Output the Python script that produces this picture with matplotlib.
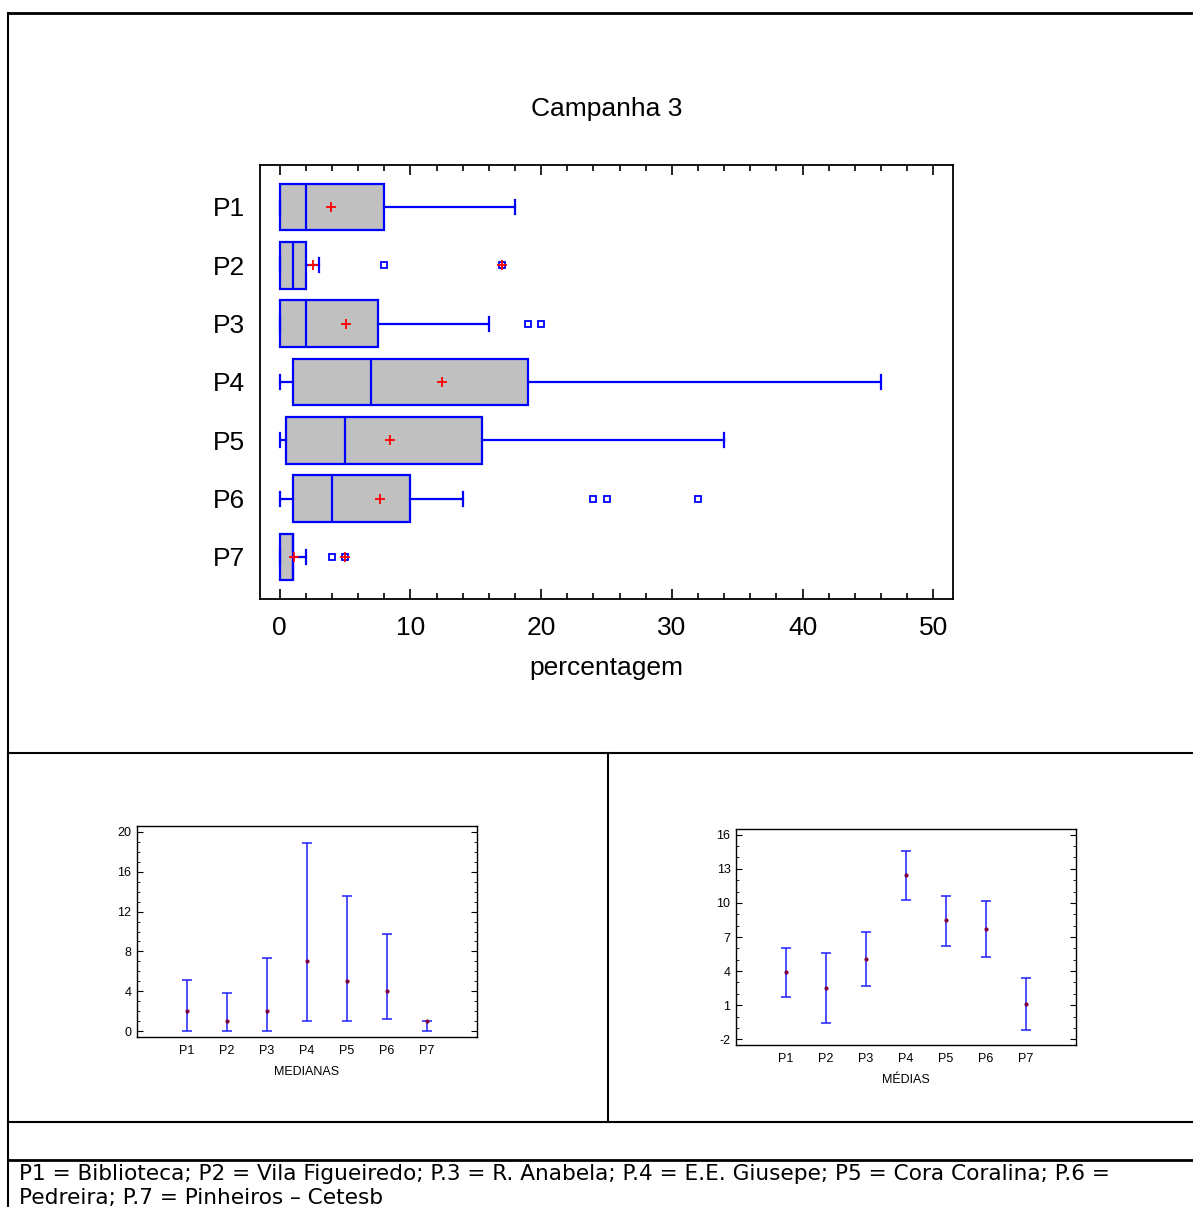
import numpy as np
import matplotlib
matplotlib.use("Agg")
import matplotlib.pyplot as plt
from matplotlib.lines import Line2D
from matplotlib.ticker import MultipleLocator, FixedLocator

plt.rcParams['font.family'] = ['Liberation Sans', 'DejaVu Sans']
plt.rcParams['axes.unicode_minus'] = False

# box plot data (percentagem)
cats = ['P1', 'P2', 'P3', 'P4', 'P5', 'P6', 'P7']
q1 = [0, 0, 0, 1, 0.5, 1, 0]
med = [2, 1, 2, 7, 5, 4, 1]
q3 = [8, 2, 7.5, 19, 15.5, 10, 1]
whislo = [0, 0, 0, 0, 0, 0, 0]
whishi = [18, 3, 16, 46, 34, 14, 2]
outliers = [[], [8, 17], [19, 20], [], [], [24, 25, 32], [4, 5]]
far_outliers = [[], [17], [], [], [], [], [5]]

# medians with intervals
med_lo = [0, 0, 0, 1, 1, 1.25, 0]
med_hi = [5.15, 3.85, 7.3, 18.9, 13.55, 9.7, 1]

# means with intervals
mean_vals = [3.93, 2.55, 5.07, 12.45, 8.48, 7.69, 1.08]
mean_lo = [1.70, -0.59, 2.73, 10.27, 6.25, 5.25, -1.21]
mean_hi = [6.07, 5.63, 7.40, 14.53, 10.63, 10.13, 3.37]

footnote_lines = ["P1 = Biblioteca; P2 = Vila Figueiredo; P.3 = R. Anabela; P.4 = E.E. Giusepe; P5 = Cora Coralina; P.6 =",
                  "Pedreira; P.7 = Pinheiros \u2013 Cetesb"]

W, H = 1193, 1207
fig = plt.figure(figsize=(W / 100, H / 100), dpi=100)

def fx(px):
    return px / W

def fy(py):
    return 1 - py / H

# frame lines
frame = [((8, 1193), (13, 13), 2.0), ((8, 8), (13, 1207), 1.5),
         ((8, 1193), (753, 753), 1.5), ((608, 608), (753, 1122), 1.5),
         ((8, 1193), (1122, 1122), 1.5), ((8, 1193), (1160, 1160), 2.0)]
for (xa, xb), (ya, yb), lw in frame:
    fig.add_artist(Line2D([fx(xa), fx(xb)], [fy(ya), fy(yb)], color='black', lw=lw))

# main box plot
ax = fig.add_axes([fx(260), fy(599), fx(953) - fx(260), fy(165) - fy(599)])
pos = np.arange(1, len(cats) + 1)
stats = []
for i in range(len(cats)):
    stats.append(dict(med=med[i], q1=q1[i], q3=q3[i], whislo=whislo[i],
                      whishi=whishi[i], mean=mean_vals[i], fliers=outliers[i]))
blue = '#0000FF'
ax.bxp(stats, positions=pos, widths=0.8, capwidths=0.24, orientation='horizontal',
       showmeans=True, patch_artist=True,
       boxprops=dict(facecolor='#C0C0C0', edgecolor=blue, lw=1.6),
       medianprops=dict(color=blue, lw=1.6),
       whiskerprops=dict(color=blue, lw=1.6),
       capprops=dict(color=blue, lw=1.6),
       meanprops=dict(marker='+', markeredgecolor='red', markersize=6.5, markeredgewidth=1.3),
       flierprops=dict(marker='s', markerfacecolor='white', markeredgecolor=blue,
                       markersize=5, markeredgewidth=1.3))
for i, far in enumerate(far_outliers):
    if far:
        ax.plot(far, [pos[i]] * len(far), '+', color='red', ms=6.5, mew=1.3)
ax.set_xlim(-1.5, 51.5)
ax.set_ylim(7.72, 0.28)
ax.set_yticks(pos)
ax.set_yticklabels(cats, fontsize=19)
ax.tick_params(axis='y', length=0, pad=11)
ax.xaxis.set_major_locator(MultipleLocator(10))
ax.xaxis.set_minor_locator(MultipleLocator(2))
ax.tick_params(axis='x', which='both', direction='in', top=True, labelsize=19, pad=12, width=1.2)
ax.tick_params(axis='x', which='major', length=7)
ax.tick_params(axis='x', which='minor', length=4.5)
ax.set_xlabel('percentagem', fontsize=19, labelpad=12)
for s in ax.spines.values():
    s.set_linewidth(1.3)
fig.text(fx(607), fy(109), 'Campanha 3', fontsize=19, ha='center', va='center')

def small_chart(rect, centers, lo, hi, yl, ymaj, label):
    a = fig.add_axes(rect)
    c = np.array(centers)
    err = [c - np.array(lo), np.array(hi) - c]
    a.errorbar(pos, c, yerr=err, fmt='none', ecolor='#2020FF', elinewidth=1.1,
               capsize=3.6, capthick=1.1)
    a.plot(pos, c, 'o', color='#800040', ms=2)
    a.set_xlim(-0.25, 8.25)
    a.set_ylim(*yl)
    a.set_xticks(pos)
    a.set_xticklabels(cats)
    a.yaxis.set_major_locator(ymaj)
    a.yaxis.set_minor_locator(MultipleLocator(1))
    a.tick_params(axis='x', length=0, labelsize=9, pad=6)
    a.tick_params(axis='y', which='both', direction='in', right=True, labelsize=9, pad=4)
    a.tick_params(axis='y', which='major', length=4)
    a.tick_params(axis='y', which='minor', length=2)
    a.set_xlabel(label, fontsize=9, labelpad=6)
    for s in a.spines.values():
        s.set_linewidth(1.0)
    return a

small_chart([fx(137), fy(1037), fx(477) - fx(137), fy(826) - fy(1037)],
            med, med_lo, med_hi, (-0.6, 20.6), MultipleLocator(4), 'MEDIANAS')
small_chart([fx(736), fy(1045), fx(1076) - fx(736), fy(829) - fy(1045)],
            mean_vals, mean_lo, mean_hi, (-2.5, 16.5),
            FixedLocator([-2, 1, 4, 7, 10, 13, 16]), 'MÉDIAS')

for k, line in enumerate(footnote_lines):
    fig.text(fx(19), fy(1180 + 24 * k), line, fontsize=15.6, ha='left', va='baseline',
             family=['DejaVu Sans'])

fig.savefig('out.png', dpi=100)
